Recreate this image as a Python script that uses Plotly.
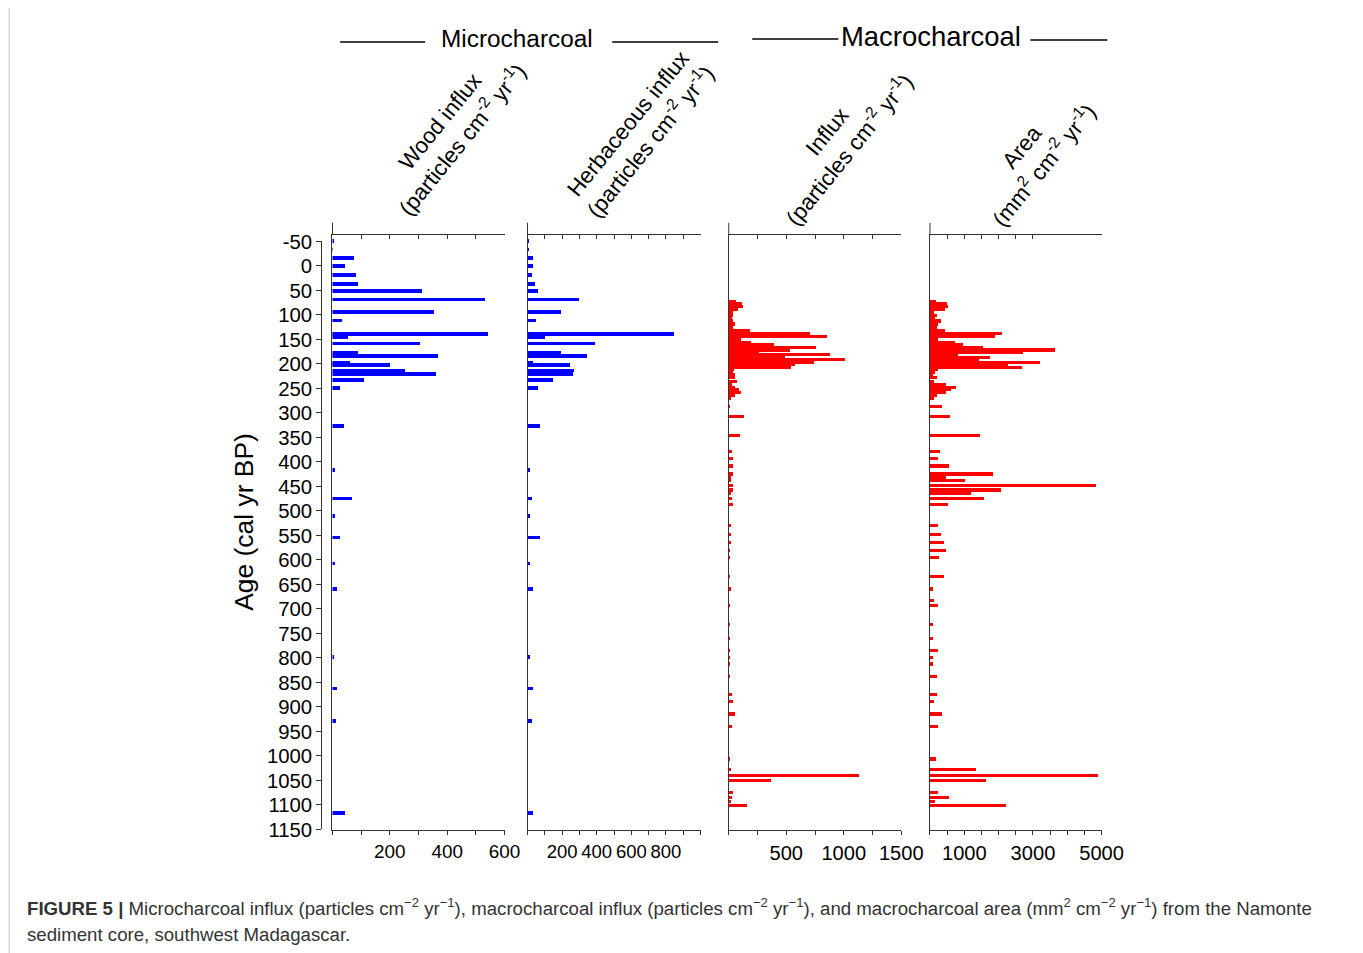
import plotly.graph_objects as go

# ---------------- data ----------------
micro_age = [-52, -34, -17, 0, 18, 36, 51, 68, 93, 111, 138, 144, 158, 177, 183, 197, 201,
             213, 220, 232, 248, 326, 416, 474, 510, 554, 607, 659, 798, 862, 928, 1116]
wood_influx = [5, 3, 78, 47, 82, 92, 315, 534, 357, 35, 545, 55, 307, 90, 368, 62, 204,
               256, 364, 110, 27, 41, 12, 68, 9, 29, 12, 17, 7, 17, 15, 47]
herb_influx = [2, 1, 27, 27, 21, 40, 60, 292, 192, 46, 841, 98, 387, 192, 340, 27, 245,
               264, 258, 144, 60, 69, 8, 23, 8, 71, 8, 27, 8, 31, 21, 27]

macro_age = [72, 77, 83, 89, 94, 100, 106, 112, 118, 125,
             131, 137, 144, 150, 156, 161, 166, 171, 176, 181,
             186, 191, 196, 201, 206, 211, 217, 222, 228, 235,
             242, 247, 252, 258, 263, 269, 287, 307, 346, 378,
             392, 408, 424, 431, 438, 448, 457, 464, 474, 487,
             530, 548, 564, 581, 594, 634, 659, 682, 692, 732,
             760, 785, 798, 812, 838, 875, 888, 914, 940, 1006,
             1028, 1039, 1050, 1074, 1085, 1093, 1100]
macro_influx = [58, 109, 124, 80, 33, 31, 25, 33, 54, 33,
                180, 702, 850, 104, 194, 389, 758, 526, 265, 882,
                490, 1005, 735, 570, 540, 40, 31, 50, 54, 73,
                26, 50, 85, 102, 54, 20, 8, 131, 96, 28,
                38, 32, 32, 20, 20, 32, 32, 20, 28, 32,
                9, 9, 9, 3, 2, 2, 20, 0, 6, 2,
                2, 6, 2, 2, 2, 28, 38, 54, 28, 6,
                20, 1128, 367, 32, 28, 10, 153]
macro_area = [166, 506, 516, 438, 126, 194, 146, 311, 243, 204,
              438, 2091, 1897, 243, 730, 953, 1556, 3628, 2723, 827,
              1751, 1430, 3210, 2285, 2676, 243, 146, 100, 194, 126,
              457, 750, 600, 477, 194, 126, 340, 584, 1448, 292,
              222, 554, 1827, 455, 1010, 4843, 2060, 1196, 1585, 515,
              243, 311, 409, 455, 263, 409, 76, 107, 222, 97,
              97, 243, 76, 76, 213, 213, 127, 360, 222, 184,
              1352, 4902, 1634, 222, 554, 146, 2206]

age_ticks = [-50, 0, 50, 100, 150, 200, 250, 300, 350, 400, 450, 500, 550, 600, 650, 700,
             750, 800, 850, 900, 950, 1000, 1050, 1100, 1150]
age_tick_labels = ["-50", "0", "50", "100", "150", "200", "250", "300", "350", "400", "450",
                   "500", "550", "600", "650", "700", "750", "800", "850", "900", "950",
                   "1000", "1050", "1100", "1150"]

wood_ticks = [0, 100, 200, 300, 400, 500, 600]
wood_labels = ["", "", "200", "", "400", "", "600"]
herb_ticks = [0, 100, 200, 300, 400, 500, 600, 700, 800, 900, 1000]
herb_labels = ["", "", "200", "", "400", "", "600", "", "800", "", ""]
influx_ticks = [0, 250, 500, 750, 1000, 1250, 1500]
influx_labels = ["", "", "500", "", "1000", "", "1500"]
area_ticks = [0, 500, 1000, 1500, 2000, 2500, 3000, 3500, 4000, 4500, 5000]
area_labels = ["", "", "1000", "", "", "", "3000", "", "", "", "5000"]
area_top_ticks = [0, 500, 1000, 1500, 2000, 2500, 3000]

titles = ["Wood influx<br>(particles cm<sup>-2</sup> yr<sup>-1</sup>)",
          "Herbaceous influx<br>(particles cm<sup>-2</sup> yr<sup>-1</sup>)",
          "Influx<br>(particles cm<sup>-2</sup> yr<sup>-1</sup>)",
          "Area<br>(mm<sup>2</sup> cm<sup>-2</sup> yr<sup>-1</sup>)"]

# ---------------- layout geometry / styles ----------------
# positions below are given in target-image pixels; the captured page is
# rendered slightly larger than the picture, so convert through SX/SY and the
# offset of the figure div on the page (OX, OY).
SX, SY = 1363 / 1385.5, 953 / 975.0
OX, OY = 8, 19.5
FW, FH = 1369, 947
def PX(x): return (x / SX - OX) / FW
def PY(y): return 1 - (y / SY - OY) / FH
K = 1 / SX  # font scale compensation

BLUE, RED, AX = "#0000ff", "#ff0000", "#333333"
FONT = "Liberation Sans, Arial, Helvetica, sans-serif"

Y_TOP, Y_BOT = 235, 831          # plot frame in pixels
A_TOP, A_BOT = 241.7, 830.0      # pixels of -50 and 1150
ppu = (A_BOT - A_TOP) / 1200.0
y_range = [1150 + (Y_BOT - A_BOT) / ppu, -50 - (A_TOP - Y_TOP) / ppu]

panels = [
    dict(x0=332.3, x1=504.3, mx=600, ticks=wood_ticks, labels=wood_labels, top=wood_ticks,
         age=micro_age, val=wood_influx, color=BLUE, bw=7.5, tx=451, ty=131, fs=18.6),
    dict(x0=527.3, x1=700.3, mx=1000, ticks=herb_ticks, labels=herb_labels, top=herb_ticks,
         age=micro_age, val=herb_influx, color=BLUE, bw=7.5, tx=639, ty=133, fs=18.2),
    dict(x0=728.5, x1=901.0, mx=1500, ticks=influx_ticks, labels=influx_labels, top=influx_ticks,
         age=macro_age, val=macro_influx, color=RED, bw=6.5, tx=838, ty=141, fs=19.8),
    dict(x0=929.7, x1=1101.3, mx=5000, ticks=area_ticks, labels=area_labels, top=area_top_ticks,
         age=macro_age, val=macro_area, color=RED, bw=6.5, tx=1033, ty=156, fs=19.8),
]

fig = go.Figure()
layout = dict(width=FW, height=FH, autosize=False, margin=dict(l=0, r=0, t=0, b=0, pad=0),
              paper_bgcolor="white", plot_bgcolor="rgba(0,0,0,0)", showlegend=False,
              font=dict(family=FONT, size=20 * K, color="black"), bargap=0, barmode="overlay")
shapes, annotations = [], []

for i, p in enumerate(panels, start=1):
    xn = "x" if i == 1 else f"x{i}"
    yn = "y" if i == 1 else f"y{i}"
    xk = "xaxis" if i == 1 else f"xaxis{i}"
    yk = "yaxis" if i == 1 else f"yaxis{i}"
    fig.add_trace(go.Bar(x=p["val"], y=p["age"], orientation="h", width=p["bw"],
                         marker=dict(color=p["color"], line=dict(width=0)),
                         xaxis=xn, yaxis=yn, hoverinfo="skip"))
    dom_x = [PX(p["x0"]), PX(p["x1"])]
    layout[xk] = dict(domain=dom_x, range=[0, p["mx"]], anchor=yn, side="bottom",
                      showline=True, linecolor=AX, linewidth=1, mirror=True,
                      ticks="outside", ticklen=4, tickcolor=AX, tickwidth=1,
                      tickmode="array", tickvals=p["ticks"], ticktext=p["labels"],
                      tickangle=0, showgrid=False, zeroline=False, fixedrange=True,
                      tickfont=dict(size=p["fs"] * K, family=FONT, color="black"))
    layout[yk] = dict(domain=[PY(Y_BOT), PY(Y_TOP)], range=y_range, anchor=xn,
                      showline=True, linecolor=AX, linewidth=1, ticks="",
                      showticklabels=False, showgrid=False, zeroline=False, fixedrange=True)
    # top tick marks pointing into the plot
    tn = 4 + i
    fig.add_trace(go.Scatter(x=[None], y=[None], xaxis=f"x{tn}", yaxis=yn,
                             mode="markers", hoverinfo="skip"))
    layout[f"xaxis{tn}"] = dict(overlaying=xn, side="top", anchor=yn, range=[0, p["mx"]],
                                showline=False, ticks="inside", ticklen=4, tickcolor=AX,
                                tickmode="array", tickvals=p["top"], showticklabels=False,
                                showgrid=False, zeroline=False, fixedrange=True)
    # left frame line extending above the top line
    shapes.append(dict(type="line", xref="paper", yref="paper",
                       x0=PX(p["x0"]), x1=PX(p["x0"]), y0=PY(Y_TOP), y1=PY(223),
                       line=dict(color=AX, width=1)))
    annotations.append(dict(text=titles[i - 1], xref="paper", yref="paper",
                            x=PX(p["tx"]), y=PY(p["ty"]), xanchor="center", yanchor="middle",
                            textangle=-51, showarrow=False, align="center",
                            font=dict(size=22 * K, family=FONT, color="black")))

# Age axis (separate, offset to the left)
fig.add_trace(go.Scatter(x=[None], y=[None], xaxis="x9", yaxis="y5", mode="markers",
                         hoverinfo="skip"))
layout["xaxis9"] = dict(domain=[PX(322), PX(330)], anchor="y5", visible=False,
                        range=[0, 1], fixedrange=True)
layout["yaxis5"] = dict(domain=[PY(A_BOT), PY(A_TOP)], range=[1150, -50], anchor="free",
                        position=PX(321), side="left", showline=True, linecolor=AX,
                        linewidth=1, ticks="outside", ticklen=5, tickcolor=AX,
                        tickmode="array", tickvals=age_ticks, ticktext=age_tick_labels,
                        showgrid=False, zeroline=False, fixedrange=True,
                        tickfont=dict(size=20 * K, family=FONT, color="black"))

annotations.append(dict(text="Age (cal yr BP)", xref="paper", yref="paper",
                        x=PX(243), y=PY(522), xanchor="center", yanchor="middle",
                        textangle=-90, showarrow=False,
                        font=dict(size=26 * K, family=FONT, color="black")))

# group headers
annotations.append(dict(text="Microcharcoal", xref="paper", yref="paper", x=PX(517), y=PY(39),
                        xanchor="center", yanchor="middle", showarrow=False,
                        font=dict(size=24 * K, family=FONT, color="black")))
annotations.append(dict(text="Macrocharcoal", xref="paper", yref="paper", x=PX(931), y=PY(37),
                        xanchor="center", yanchor="middle", showarrow=False,
                        font=dict(size=27 * K, family=FONT, color="black")))
for (a, b, yy) in [(340, 425, 42), (612, 718, 42), (752, 838, 39), (1030, 1107, 40)]:
    shapes.append(dict(type="line", xref="paper", yref="paper", x0=PX(a), x1=PX(b),
                       y0=PY(yy), y1=PY(yy), line=dict(color="black", width=1.5)))

# caption
annotations.append(dict(
    text="<b>FIGURE 5 |</b> Microcharcoal influx (particles cm<sup>\u22122</sup> yr<sup>\u22121</sup>), "
         "macrocharcoal influx (particles cm<sup>\u22122</sup> yr<sup>\u22121</sup>), and macrocharcoal "
         "area (mm<sup>2</sup> cm<sup>\u22122</sup> yr<sup>\u22121</sup>) from the Namonte",
    xref="paper", yref="paper", x=PX(25), y=PY(908), xanchor="left", yanchor="middle",
    showarrow=False, align="left", font=dict(size=18.35 * K, family=FONT, color="#333333")))
annotations.append(dict(
    text="sediment core, southwest Madagascar.",
    xref="paper", yref="paper", x=PX(25), y=PY(935), xanchor="left", yanchor="middle",
    showarrow=False, align="left", font=dict(size=18.35 * K, family=FONT, color="#333333")))

# outer frame
shapes.append(dict(type="rect", xref="paper", yref="paper", x0=PX(9), x1=PX(1356),
                   y0=-0.05, y1=PY(6), line=dict(color="#c8c8c8", width=1)))

layout["shapes"] = shapes
layout["annotations"] = annotations
fig.update_layout(**layout)
fig.write_html("out.html")
